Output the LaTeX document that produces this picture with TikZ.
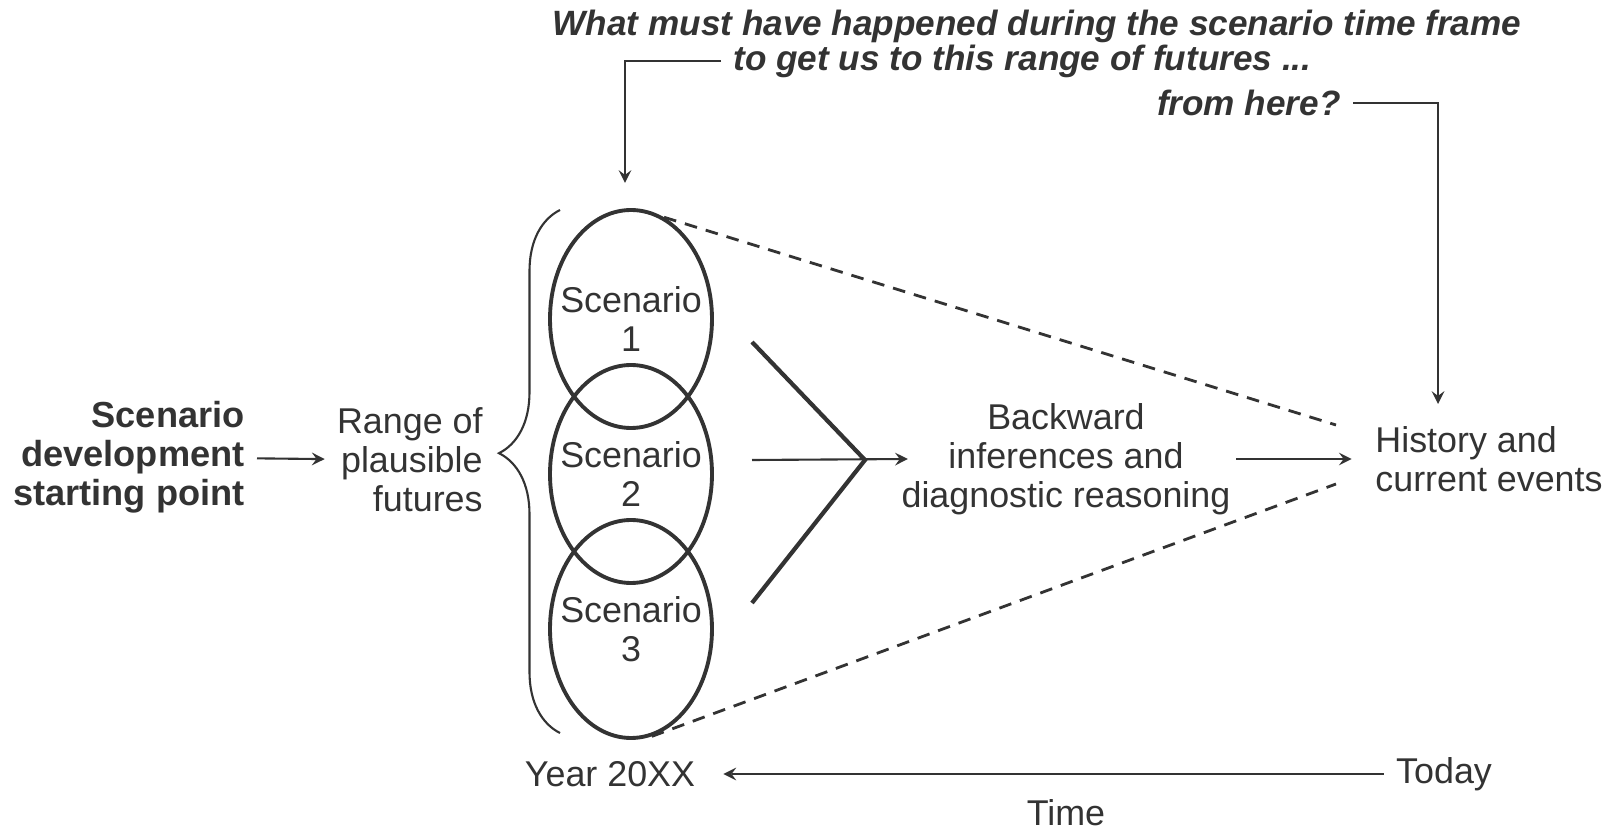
\documentclass[tikz,border=0pt]{standalone}
\usepackage{fontspec}
\setmainfont{Liberation Sans}
\usepackage{xcolor}
\usetikzlibrary{shapes.geometric,decorations.pathreplacing}
\definecolor{inkgray}{gray}{0.2}

\begin{document}
\begin{tikzpicture}[>=stealth,
	every node/.style={text=inkgray, font=\fontsize{10.2}{11.1}\selectfont},
	quest/.style={font=\fontsize{10}{12}\bfseries\itshape\selectfont},
	scen/.style={ellipse, draw=inkgray, line width=1.1pt, minimum width=1.62cm, minimum height=2.18cm, inner sep=0pt},
	lead/.style={->, draw=inkgray, line width=0.6pt},
	dashlink/.style={draw=inkgray, line width=0.8pt, dash pattern=on 3.6pt off 2.6pt}]
	\useasboundingbox (0,0) rectangle (16.24,-8.29);

	%question at the top
	\node[quest] (q1) at (10.37,-0.26) {What must have happened during the scenario time frame};
	\node[quest, anchor=west] (q2) at (7.21,-0.61) {to get us to this range of futures ...};
	\node[quest, anchor=east] (q3) at (13.53,-1.03) {from here?};

	%left texts
	\node[font=\fontsize{10.3}{11.1}\bfseries\selectfont, align=right, anchor=east] (start) at (2.57,-4.57) {Scenario\\development\\starting point};
	\node[align=right, anchor=east] (range) at (4.95,-4.60) {Range of\\plausible\\futures};

	%scenarios
	\node[scen] (s1) at (6.31,-3.19) {};
		\node[align=center] (s1txt) at (s1) {Scenario\\1};
	\node[scen] (s2) at (6.31,-4.74) {};
		\node[align=center] (s2txt) at (s2) {Scenario\\2};
	\node[scen] (s3) at (6.31,-6.29) {};
		\node[align=center] (s3txt) at (s3) {Scenario\\3};
	\draw[decorate, decoration={brace, amplitude=6.1mm, aspect=0.535}, draw=inkgray, line width=0.6pt] (5.60,-7.33) -- (5.60,-2.10);

	%middle and right texts
	\node[align=center, inner xsep=0.5mm] (back) at (10.66,-4.59) {Backward\\inferences and\\diagnostic reasoning};
	\node[align=left, inner xsep=0mm] (hist) at (14.89,-4.59) {History and\\current events};

	%time line
	\node (year) at (6.10,-7.74) {Year 20XX};
	\node (today) at (14.44,-7.74) {Today};
	\node (time) at (10.66,-8.13) {Time};

	%points
	\coordinate (vtop) at (7.52,-3.42);
	\coordinate (vtip) at (8.65,-4.60);
	\coordinate (vbot) at (7.52,-6.03);
	\coordinate (vmid) at (7.52,-4.60);
	\coordinate (s1in) at (6.25,-1.83);
	\coordinate (histin) at (14.38,-4.04);
	\coordinate (dashtop) at (13.36,-4.25);
	\coordinate (dashbot) at (13.36,-4.84);

	%arrows
	\draw[lead] (q2.west) -| (s1in);						%question--scenario 1
	\draw[lead] (q3.east) -| (histin);						%question--history
	\draw[lead] (start) -- (range);							%start--range
	\draw[draw=inkgray, line width=1.2pt] (vtop) -- (vtip) -- (vbot);	%funnel
	\draw[lead] (vmid) -- ([xshift=1.2mm]back.west);		%funnel--backward
	\draw[lead] (back.east) -- ([xshift=-2.3mm]back.east -| hist.west);	%backward--history
	\draw[lead, shorten >=1.6mm] (today) -- (year);			%today--year
	%
	\draw[dashlink] (s1.72) -- (dashtop);					%scenario 1--history
	\draw[dashlink] (s3.-79) -- (dashbot);					%scenario 3--history
\end{tikzpicture}
\end{document}
